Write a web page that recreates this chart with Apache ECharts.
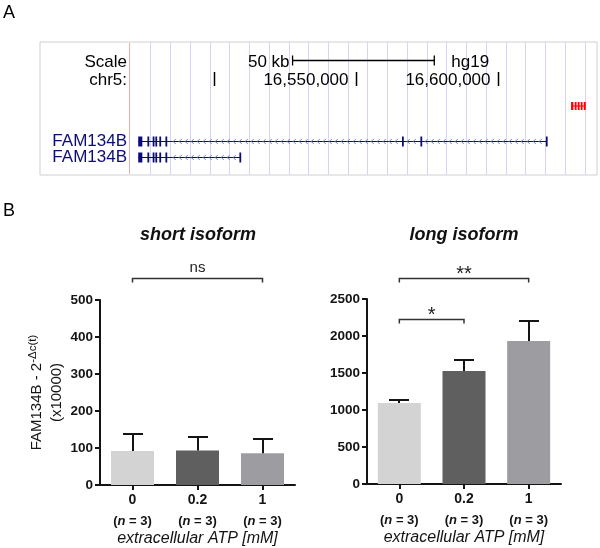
<!DOCTYPE html>
<html><head><meta charset="utf-8">
<script src="https://cdn.jsdelivr.net/npm/echarts@6/dist/echarts.min.js"></script>
<style>html,body{margin:0;padding:0;background:#fff}#c{width:600px;height:548px}</style>
</head><body><div id="c"></div>
<script>
// ---------------- DATA ----------------
// Panel B: qPCR bar charts
const doses = ['0', '0.2', '1'];
const nPerGroup = [3, 3, 3];
const shortMeans = [92, 93, 86];
const shortSD = [46, 37, 38];
const longMeans = [1095, 1527, 1932];
const longSD = [42, 149, 271];
const shortBrackets = [[0, 2, 560]];
const shortBracketLabels = ['ns'];
const longBrackets = [[0, 2, 2784], [0, 1, 2230]];
const longBracketLabels = ['**', '*'];

// Panel A: UCSC browser view (hg19, chr5)
const viewRange = [16438500, 16635000];
const rulerTicks = [16500000, 16550000, 16600000];
const rulerLabels = ['', '16,550,000', '16,600,000'];
const scaleBarBp = [16527600, 16577600];
const scaleBarLabel = '50 kb';
const assembly = 'hg19';
const chromLabel = 'chr5:';
const redGuideBp = [16469900];
const txNames = ['FAM134B', 'FAM134B'];
const txStarts = [16473150, 16473150];
const txEnds = [16617170, 16509060];
const txExons = [
  [[16473150, 16474600], [16476400, 16476650], [16478250, 16478500], [16479200, 16479450],
   [16480600, 16480850], [16482750, 16483000], [16566200, 16566450], [16572700, 16572950],
   [16616950, 16617170]],
  [[16473150, 16474600], [16476400, 16476650], [16478250, 16478500], [16479200, 16479450],
   [16480600, 16480850], [16482750, 16483000], [16508850, 16509060]]
];
const redFeature = [16625850, 16631030];
const redFeatureBlocks = [[16625850, 16626660], [16627150, 16627790], [16628210, 16628850],
                          [16629270, 16629900], [16630330, 16631030]];

// ---------------- STYLE / LAYOUT ----------------
const FONT = "'Liberation Sans', Arial, Helvetica, sans-serif";
const GENE = '#0c0c78';
const INK = '#141414';
const barColors = ['#d3d3d3', '#5f5f5f', '#9d9da1'];
const ROW = { scale: 18, ruler: 37, red: 64, tx: [99, 115] };

const chart = echarts.init(document.getElementById('c'), null, { renderer: 'canvas' });

function txt(text, x, y, size, opts) {
  return Object.assign({ type: 'text', style: Object.assign({
    text, x, y, fontSize: size, fontFamily: FONT, fill: '#000',
    align: 'left', verticalAlign: 'middle' }, opts || {}) });
}

function renderRuler(params, api) {
  const kids = [];
  const yBar = Math.round(api.coord([viewRange[0], ROW.scale])[1]) + 0.5;
  const xa = api.coord([scaleBarBp[0], 0])[0], xb = api.coord([scaleBarBp[1], 0])[0];
  const ls = { stroke: '#000', lineWidth: 1.3 };
  kids.push({ type: 'line', shape: { x1: xa, y1: yBar, x2: xb, y2: yBar }, style: ls });
  [xa, xb].forEach(x => kids.push({ type: 'line', shape: { x1: x, y1: yBar - 5, x2: x, y2: yBar + 5 }, style: ls }));
  kids.push({ type: 'text', style: { text: scaleBarLabel, x: xa - 3, y: yBar + 1.5, align: 'right', verticalAlign: 'middle', fontSize: 17, fontFamily: FONT, fill: '#000' } });
  kids.push({ type: 'text', style: { text: assembly, x: xb + 17, y: yBar + 2, align: 'left', verticalAlign: 'middle', fontSize: 17, fontFamily: FONT, fill: '#000' } });
  const yR = api.coord([viewRange[0], ROW.ruler])[1];
  rulerTicks.forEach((bp, i) => {
    const x = Math.round(api.coord([bp, 0])[0]) + 0.5;
    kids.push({ type: 'line', shape: { x1: x, y1: yR - 7, x2: x, y2: yR + 7 }, style: { stroke: '#000', lineWidth: 1.5 } });
    if (rulerLabels[i]) kids.push({ type: 'text', style: { text: rulerLabels[i], x: x - 8, y: yR + 1.5, align: 'right', verticalAlign: 'middle', fontSize: 17, fontFamily: FONT, fill: '#000' } });
  });
  // red guide
  redGuideBp.forEach(bp => {
    const x = Math.round(api.coord([bp, 0])[0]) + 0.5;
    const t = api.coord([bp, 0])[1], b = api.coord([bp, 133])[1];
    kids.push({ type: 'line', shape: { x1: x, y1: t + 1, x2: x, y2: b - 1 }, style: { stroke: '#f7a8a8', lineWidth: 1 } });
  });
  // red feature
  const yRed = api.coord([0, ROW.red])[1];
  const r0 = api.coord([redFeature[0], 0])[0], r1 = api.coord([redFeature[1], 0])[0];
  kids.push({ type: 'line', shape: { x1: r0, y1: yRed, x2: r1, y2: yRed }, style: { stroke: '#ff0000', lineWidth: 1 } });
  redFeatureBlocks.forEach(bl => {
    const a = api.coord([bl[0], 0])[0], b = api.coord([bl[1], 0])[0];
    kids.push({ type: 'rect', shape: { x: a, y: yRed - 4, width: Math.max(b - a, 1.6), height: 8 }, style: { fill: '#ff0000' } });
  });
  return { type: 'group', children: kids };
}

function renderTranscript(params, api) {
  const i = params.dataIndex;
  const row = api.value(2);
  const a = api.coord([api.value(0), row]);
  const b = api.coord([api.value(1), row]);
  const y = Math.round(a[1]) + 0.5;
  const kids = [];
  kids.push({ type: 'line', shape: { x1: a[0], y1: y, x2: b[0], y2: y }, style: { stroke: GENE, lineWidth: 1 } });
  const exs = txExons[i].map(e => [api.coord([e[0], row])[0], api.coord([e[1], row])[0]]);
  for (let x = a[0] + 6; x < b[0] - 3; x += 6) {
    if (exs.some(e => x > e[0] - 3 && x < e[1] + 4)) continue;
    kids.push({ type: 'polyline', shape: { points: [[x + 1.5, y - 2.5], [x - 1, y], [x + 1.5, y + 2.5]] }, style: { stroke: '#7d7dc4', lineWidth: 1, fill: null } });
  }
  exs.forEach(e => {
    const w = Math.max(e[1] - e[0], 1.8);
    kids.push({ type: 'rect', shape: { x: e[0], y: y - 5, width: w, height: 10 }, style: { fill: GENE } });
  });
  return { type: 'group', children: kids };
}

function renderErr(params, api) {
  const c = api.value(0), m = api.value(1), e = api.value(2);
  const p0 = api.coord([c, m]), p1 = api.coord([c, m + e]);
  const x = Math.round(p0[0]);
  const yt = Math.round(p1[1]);
  const st = { stroke: INK, lineWidth: 2 };
  return { type: 'group', children: [
    { type: 'line', shape: { x1: x, y1: p0[1], x2: x, y2: yt }, style: st },
    { type: 'line', shape: { x1: x - 10, y1: yt, x2: x + 10, y2: yt }, style: st }
  ] };
}

function bracketRenderer(labels) {
  return function (params, api) {
    const p1 = api.coord([api.value(0), api.value(2)]);
    const p2 = api.coord([api.value(1), api.value(2)]);
    const y = Math.round(p1[1]) + 0.5;
    const lab = labels[params.dataIndex];
    const isStar = lab.indexOf('*') >= 0;
    return { type: 'group', children: [
      { type: 'polyline', shape: { points: [[p1[0], y + 4], [p1[0], y], [p2[0], y], [p2[0], y + 4]] }, style: { stroke: '#333', lineWidth: 1.5, fill: null } },
      { type: 'text', style: { text: lab, x: (p1[0] + p2[0]) / 2, y: isStar ? y - 4 : y - 11, align: 'center', verticalAlign: 'middle', fontSize: isStar ? 20 : 15, fontFamily: FONT, fill: '#222' } }
    ] };
  };
}

function catAxis(gridIndex) {
  return {
    gridIndex, type: 'category', data: doses,
    axisLine: { show: true, lineStyle: { color: INK, width: 2 } },
    axisTick: { show: true, alignWithLabel: true, length: 5, lineStyle: { color: INK, width: 2 } },
    axisLabel: {
      margin: 5, interval: 0,
      formatter: (v, i) => '{v|' + v + '}\n{b|(}{bi|n}{b| = ' + nPerGroup[i] + ')}',
      rich: {
        v: { fontSize: 14, fontWeight: 'bold', fontFamily: FONT, color: INK, lineHeight: 21 },
        b: { fontSize: 13, fontWeight: 'bold', fontFamily: FONT, color: INK, lineHeight: 21 },
        bi: { fontSize: 13, fontWeight: 'bold', fontStyle: 'italic', fontFamily: FONT, color: INK, lineHeight: 21 }
      }
    },
    name: 'extracellular ATP [mM]', nameLocation: 'middle', nameGap: 46,
    nameTextStyle: { fontSize: 16, fontStyle: 'italic', fontFamily: FONT, color: INK }
  };
}
function valAxis(gridIndex, max, interval, extra) {
  return Object.assign({
    gridIndex, type: 'value', min: 0, max, interval,
    axisLine: { show: true, lineStyle: { color: INK, width: 2 } },
    axisTick: { show: true, length: 5, lineStyle: { color: INK, width: 2 } },
    axisLabel: { margin: 7, fontSize: 13.5, fontWeight: 'bold', fontFamily: FONT, color: INK, formatter: v => String(v) },
    splitLine: { show: false }
  }, extra || {});
}

const option = {
  animation: false,
  backgroundColor: '#fff',
  textStyle: { fontFamily: FONT },
  grid: [
    { left: 40, top: 42, width: 557, height: 133, show: true, borderColor: '#cfcfcf', borderWidth: 1, backgroundColor: 'transparent', outerBoundsMode: 'none' },
    { left: 131, top: 42, width: 466, height: 133, outerBoundsMode: 'none' },
    { left: 100, top: 300, width: 195, height: 185, outerBoundsMode: 'none' },
    { left: 367, top: 299, width: 194, height: 185, outerBoundsMode: 'none' }
  ],
  xAxis: [
    { gridIndex: 0, type: 'value', min: viewRange[0], max: viewRange[1], show: false },
    { gridIndex: 1, type: 'value', min: 0, max: 23.62, interval: 1,
      axisLine: { show: false }, axisTick: { show: false }, axisLabel: { show: false },
      splitLine: { show: true, showMinLine: false, showMaxLine: false, lineStyle: { color: '#d4d4fa', width: 1 } } },
    catAxis(2),
    catAxis(3)
  ],
  yAxis: [
    { gridIndex: 0, type: 'value', min: 0, max: 133, inverse: true, show: false },
    { gridIndex: 1, type: 'value', min: 0, max: 1, show: false },
    valAxis(2, 500, 100, {
      name: '{a|FAM134B - 2}{s|-\u0394c(t)}\n{a|(x10000)}',
      nameLocation: 'middle', nameRotate: 90, nameGap: 33,
      nameTextStyle: { fontSize: 15, fontFamily: FONT, color: INK, rich: {
        a: { fontSize: 15, fontFamily: FONT, color: INK, lineHeight: 20 },
        s: { fontSize: 11.5, fontFamily: FONT, color: INK, lineHeight: 11, verticalAlign: 'top' }
      } }
    }),
    valAxis(3, 2500, 500)
  ],
  graphic: [
    txt('A', 3, 13, 18),
    txt('B', 3, 211, 18),
    txt('Scale', 127, 62.5, 17, { align: 'right' }),
    txt(chromLabel, 127, 80, 17, { align: 'right' }),
    txt(txNames[0], 127, 141.5, 17, { align: 'right', fill: GENE }),
    txt(txNames[1], 127, 157.5, 17, { align: 'right', fill: GENE }),
    txt('short isoform', 198, 235.5, 18, { align: 'center', fontWeight: 'bold', fontStyle: 'italic', fill: '#111' }),
    txt('long isoform', 464, 235.5, 18, { align: 'center', fontWeight: 'bold', fontStyle: 'italic', fill: '#111' })
  ],
  series: [
    { type: 'custom', name: 'ruler', xAxisIndex: 0, yAxisIndex: 0, clip: false, silent: true,
      data: [[viewRange[0], 0]], renderItem: renderRuler },
    { type: 'custom', name: 'transcripts', xAxisIndex: 0, yAxisIndex: 0, clip: false, silent: true,
      encode: { x: [0, 1], y: 2 },
      data: txStarts.map((s, i) => [s, txEnds[i], ROW.tx[i]]), renderItem: renderTranscript },
    { type: 'bar', xAxisIndex: 2, yAxisIndex: 2, barWidth: 43, silent: true,
      data: shortMeans.map((v, i) => ({ value: v, itemStyle: { color: barColors[i] } })) },
    { type: 'custom', xAxisIndex: 2, yAxisIndex: 2, clip: false, silent: true, z: 3,
      data: shortMeans.map((m, i) => [i, m, shortSD[i]]), renderItem: renderErr },
    { type: 'custom', xAxisIndex: 2, yAxisIndex: 2, clip: false, silent: true,
      encode: { x: [0, 1], y: 2 },
      data: shortBrackets, renderItem: bracketRenderer(shortBracketLabels) },
    { type: 'bar', xAxisIndex: 3, yAxisIndex: 3, barWidth: 43, silent: true,
      data: longMeans.map((v, i) => ({ value: v, itemStyle: { color: barColors[i] } })) },
    { type: 'custom', xAxisIndex: 3, yAxisIndex: 3, clip: false, silent: true, z: 3,
      data: longMeans.map((m, i) => [i, m, longSD[i]]), renderItem: renderErr },
    { type: 'custom', xAxisIndex: 3, yAxisIndex: 3, clip: false, silent: true,
      encode: { x: [0, 1], y: 2 },
      data: longBrackets, renderItem: bracketRenderer(longBracketLabels) }
  ]
};
chart.setOption(option);
</script></body></html>
